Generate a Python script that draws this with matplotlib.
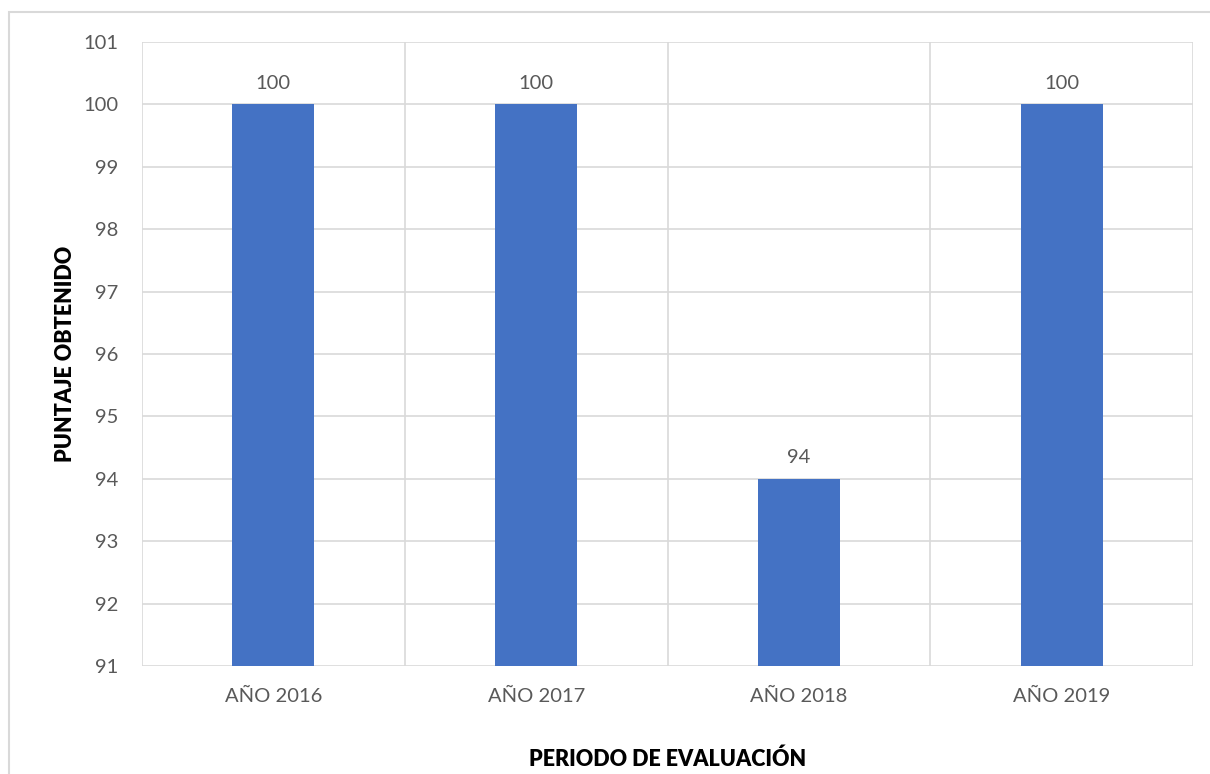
import matplotlib.pyplot as plt
import matplotlib.patches as patches

plt.rcParams['font.family'] = ['Lato', 'DejaVu Sans']

categories = ['AÑO 2016', 'AÑO 2017', 'AÑO 2018', 'AÑO 2019']
scores = [100, 100, 94, 100]
yticks = list(range(91, 102))

BAR = '#4472C4'
TXT = '#595959'
GRID = '#d9d9d9'

fig = plt.figure(figsize=(12.10, 7.74), dpi=100, facecolor='white')

# marco exterior del gráfico
fig.add_artist(patches.Rectangle((9 / 1210, -0.05), 1.1, 1 - 12 / 774 + 0.05,
                                 transform=fig.transFigure, fill=False,
                                 edgecolor=GRID, linewidth=1.5))

ax = fig.add_axes([142 / 1210, 108 / 774, 1051 / 1210, 624 / 774])
x = range(len(categories))
bars = ax.bar(x, [s - 91 for s in scores], bottom=91, width=0.312, color=BAR, zorder=3)

ax.set_xlim(-0.5, len(categories) - 0.5)
ax.set_ylim(91, 101)
ax.set_yticks(yticks)
ax.set_xticks(list(x))
ax.set_xticklabels(categories)

# rejilla: horizontales en cada tick, verticales entre categorías
for yv in yticks:
    ax.axhline(yv, color=GRID, linewidth=1.2, zorder=1)
for xv in [i - 0.5 for i in range(len(categories) + 1)]:
    ax.axvline(xv, color=GRID, linewidth=1.2, zorder=1)

for s in ax.spines.values():
    s.set_visible(False)
ax.tick_params(length=0, labelsize=14.5, colors=TXT)
ax.tick_params(axis='x', pad=16)
ax.tick_params(axis='y', pad=17)

for i, s in enumerate(scores):
    ax.text(i, s + 0.2, f'{s}', ha='center', va='bottom', fontsize=14.5, color=TXT)

ax.set_ylabel('PUNTAJE OBTENIDO', fontsize=15.5, fontweight='heavy', color='black', labelpad=5)
ax.set_xlabel('PERIODO DE EVALUACIÓN', fontsize=15.5, fontweight='heavy', color='black', labelpad=31)

plt.savefig('out.png', dpi=100, facecolor='white')
plt.close()
